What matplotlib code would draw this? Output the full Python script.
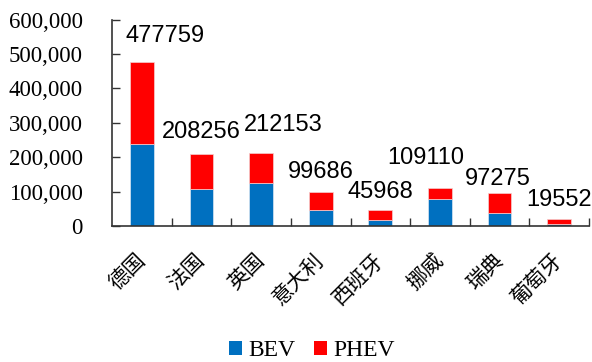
import matplotlib
matplotlib.use("Agg")
import matplotlib.pyplot as plt
from matplotlib.ticker import FuncFormatter, MultipleLocator, FixedLocator
from matplotlib.patches import Patch

# Sales by country, split into battery EVs and plug-in hybrids
countries = ["德国", "法国", "英国", "意大利", "西班牙", "挪威", "瑞典", "葡萄牙"]
totals = [477759, 208256, 212153, 99686, 45968, 109110, 97275, 19552]
bev = [237000, 106500, 124500, 47300, 16500, 79200, 37700, 6700]
phev = [t - b for t, b in zip(totals, bev)]

# Label placement tweaks (pixels, relative to the top of each stack)
label_dx = [23, 0, 22, 0, 0, -14, -2, 0]
label_dy = [26, 22, 28, 20, 18, 30, 14, 19]

BLUE = "#0070C0"
RED = "#FF0000"

fig = plt.figure(figsize=(5.92, 3.62), dpi=100)
ax = fig.add_axes([112 / 592, 1 - 226 / 362, 477 / 592, (226 - 19.5) / 362])

x = list(range(len(countries)))
ax.bar(x, bev, width=0.4, color=BLUE, edgecolor="#d9e6f2", linewidth=0.5, zorder=2)
ax.bar(x, phev, width=0.4, bottom=bev, color=RED, edgecolor="#f4d0d0", linewidth=0.5, zorder=2)

for xi, t, dx, dy in zip(x, totals, label_dx, label_dy):
    ax.annotate(str(t), (xi, t), xytext=(dx, dy), textcoords="offset pixels",
                ha="center", va="center", fontsize=17,
                family="Liberation Sans", color="black")

ax.set_xlim(-0.5, len(countries) - 0.5)
ax.set_ylim(0, 600000)
ax.yaxis.set_major_locator(MultipleLocator(100000))
ax.yaxis.set_major_formatter(FuncFormatter(lambda v, p: f"{int(v):,}"))

ax.set_xticks(x)
ax.set_xticklabels(countries, rotation=45, ha="right", va="center",
                   rotation_mode="anchor", fontsize=15,
                   family=["Noto Sans CJK SC", "DejaVu Sans"])
ax.tick_params(axis="x", which="major", length=0, pad=22)
ax.xaxis.set_minor_locator(FixedLocator([i + 0.5 for i in x]))
ax.tick_params(axis="x", which="minor", direction="in", length=5.5, width=1, color="#333333")

ax.tick_params(axis="y", direction="in", length=5.5, width=1, color="#333333", pad=21)
for lab in ax.get_yticklabels():
    lab.set_family("Liberation Serif")
    lab.set_fontsize(16.5)

for s in ("top", "right"):
    ax.spines[s].set_visible(False)
for s in ("left", "bottom"):
    ax.spines[s].set_color("#333333")
    ax.spines[s].set_linewidth(1.2)

handles = [Patch(facecolor=BLUE, label="BEV"), Patch(facecolor=RED, label="PHEV")]
fig.legend(handles=handles, loc="center", bbox_to_anchor=(312 / 592, 1 - 351 / 362),
           ncol=2, frameon=False, prop={"family": "Liberation Serif", "size": 17},
           handlelength=0.55, handleheight=0.55, handletextpad=0.25,
           columnspacing=0.8, borderpad=0, borderaxespad=0)

fig.savefig("out.png", dpi=100)
